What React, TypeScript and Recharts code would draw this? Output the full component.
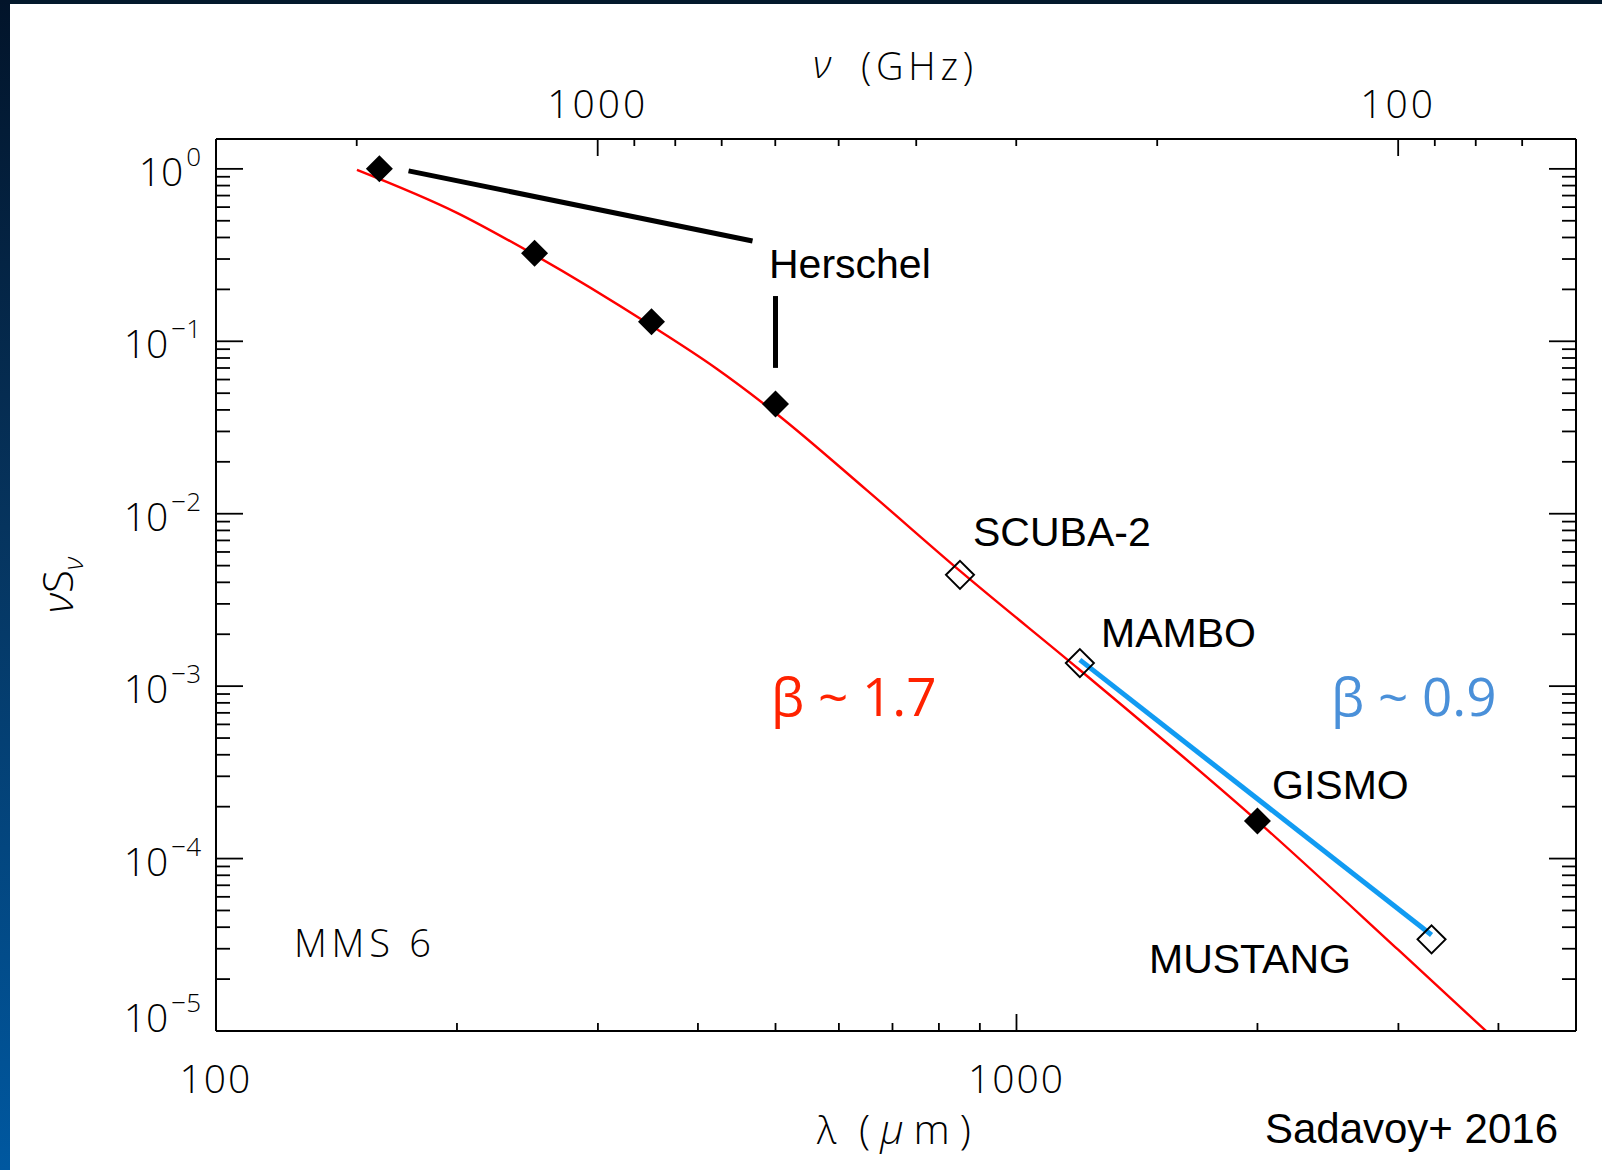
import { ComposedChart, Line, Scatter, XAxis, YAxis } from "recharts";

// λ[µm] = C / ν[GHz]
const C_UM_GHZ = 299792.458;

// Herschel photometry (filled diamonds)
const herschelLam = [160, 250, 350, 500];
const herschelFlux = [1.0, 0.324, 0.13, 0.0433];
// GISMO (filled)
const gismoLam = [2000];
const gismoFlux = [1.65e-4];
// SCUBA-2, MAMBO, MUSTANG (open diamonds)
const openLam = [850, 1200, 3300];
const openFlux = [0.00442, 0.00136, 3.4e-5];

// modified blackbody fit, beta ~ 1.7 (red)
const fitLam = [150, 200, 250, 350, 420, 500, 650, 850, 1200, 2000, 3000, 3860];
const fitFlux = [0.987, 0.556, 0.317, 0.123, 0.0705, 0.0384, 0.0137, 0.00466, 0.00124, 1.65e-4, 2.95e-5, 1.0e-5];

// shallow long-wavelength slope, beta ~ 0.9 (blue)
const shallowLam = [1200, 3300];
const shallowFlux = [0.00142, 3.6e-5];

// "Herschel" leader lines
const leaderLam = [174, 468];
const leaderFlux = [0.974, 0.382];
const stemLam = [500, 500];
const stemFlux = [0.183, 0.0701];

const lamTicks = [100, 200, 300, 400, 500, 600, 700, 800, 900, 1000, 2000, 3000, 4000, 5000];
const lamLabels = [100, 1000];
const nuTicks = [2000, 1000, 900, 800, 700, 600, 500, 400, 300, 200, 100, 90, 80, 70];
const nuLabels = [1000, 100];
const fluxDecades = [-5, -4, -3, -2, -1, 0];
const minorMult = [2, 3, 4, 5, 6, 7, 8, 9];

const pts = (xs: number[], ys: number[]) => xs.map((lam, i) => ({ lam, f: ys[i] }));

const fluxTicks: number[] = [];
fluxDecades.forEach((d) => {
  fluxTicks.push(Math.pow(10, d));
  if (d < 0) minorMult.forEach((m) => fluxTicks.push(m * Math.pow(10, d)));
});

const isDecade = (v: number) => Math.abs(Math.log10(v) - Math.round(Math.log10(v))) < 1e-6;

const TICK_FONT = "'Open Sans', 'DejaVu Sans', sans-serif";
const LABEL_FONT = "'Liberation Sans', Arial, sans-serif";

const LeftTick = (p: any) => {
  const { x, y, payload } = p;
  const v = payload.value;
  const major = isDecade(v);
  const e = Math.round(Math.log10(v));
  const base = e === -5 ? y + 1 : y + 17;
  return (
    <g>
      <line x1={x} x2={x + (major ? 27 : 14)} y1={y} y2={y} stroke="#000" strokeWidth={1.8} />
      {major && (
        <text x={x - 15} y={base} textAnchor="end" fontFamily={TICK_FONT} fontWeight={300} fontSize={39} fill="#000">
          10
          <tspan dy={-20} dx={3} fontSize={26}>
            {e === 0 ? "0" : "\u2212" + Math.abs(e)}
          </tspan>
        </text>
      )}
    </g>
  );
};

const RightTick = (p: any) => {
  const { x, y, payload } = p;
  const major = isDecade(payload.value);
  return <line x1={x} x2={x - (major ? 27 : 14)} y1={y} y2={y} stroke="#000" strokeWidth={1.8} />;
};

const BottomTick = (p: any) => {
  const { x, y, payload } = p;
  const v = payload.value;
  const major = isDecade(v);
  return (
    <g>
      <line x1={x} x2={x} y1={y} y2={y - (major ? 17 : 8)} stroke="#000" strokeWidth={1.8} />
      {lamLabels.includes(v) && (
        <text x={x} y={y + 62} textAnchor="middle" fontFamily={TICK_FONT} fontWeight={300} fontSize={39} letterSpacing={2} fill="#000">
          {v}
        </text>
      )}
    </g>
  );
};

const TopTick = (p: any) => {
  const { x, y, payload } = p;
  const nu = Math.round(C_UM_GHZ / payload.value);
  const major = isDecade(nu);
  return (
    <g>
      <line x1={x} x2={x} y1={y} y2={y + (major ? 17 : 7)} stroke="#000" strokeWidth={1.8} />
      {nuLabels.includes(nu) && (
        <text x={x} y={y - 21} textAnchor="middle" fontFamily={TICK_FONT} fontWeight={300} fontSize={39} letterSpacing={3} fill="#000">
          {nu}
        </text>
      )}
    </g>
  );
};

const FilledDiamond = (p: any) => {
  const { cx, cy } = p;
  const r = 13.5;
  return <path d={`M${cx},${cy - r}L${cx + r},${cy}L${cx},${cy + r}L${cx - r},${cy}Z`} fill="#000" />;
};

const OpenDiamond = (p: any) => {
  const { cx, cy } = p;
  const r = 14;
  return (
    <path d={`M${cx},${cy - r}L${cx + r},${cy}L${cx},${cy + r}L${cx - r},${cy}Z`} fill="none" stroke="#000" strokeWidth={2} />
  );
};

const Annot = ({ x, y, children, ...rest }: any) => (
  <text x={x} y={y} fontFamily={LABEL_FONT} fontSize={41} fill="#000" {...rest}>
    {children}
  </text>
);

export default function App() {
  const xDomain = [100, 5000];
  const yDomain = [1e-5, 1.49];
  const topTicks = nuTicks.map((n) => C_UM_GHZ / n);

  return (
    <div style={{ position: "absolute", left: 0, top: 0, width: 1602, height: 1170, background: "#fff", overflow: "hidden" }}>
      <div style={{ position: "absolute", left: 0, top: 0, width: 1602, height: 4, background: "#03192c" }} />
      <div
        style={{
          position: "absolute",
          left: 0,
          top: 0,
          width: 10,
          height: 1170,
          background: "linear-gradient(#02142a, #06345e 45%, #0058a0)",
        }}
      />
      <div style={{ position: "absolute", left: 0, top: 0 }}>
        <ComposedChart width={1602} height={1170} margin={{ top: 79, right: 6, bottom: 79, left: 116 }}>
          <XAxis
            xAxisId="b"
            dataKey="lam"
            type="number"
            scale="log"
            domain={xDomain}
            allowDataOverflow
            ticks={lamTicks}
            interval={0}
            height={60}
            tickSize={0}
            tickMargin={0}
            tickLine={false}
            tick={BottomTick}
            axisLine={{ stroke: "#000", strokeWidth: 2 }}
          />
          <XAxis
            xAxisId="t"
            orientation="top"
            dataKey="lam"
            type="number"
            scale="log"
            domain={xDomain}
            allowDataOverflow
            ticks={topTicks}
            interval={0}
            height={60}
            tickSize={0}
            tickMargin={0}
            tickLine={false}
            tick={TopTick}
            axisLine={{ stroke: "#000", strokeWidth: 2 }}
          />
          <YAxis
            yAxisId="l"
            dataKey="f"
            type="number"
            scale="log"
            domain={yDomain}
            allowDataOverflow
            ticks={fluxTicks}
            interval={0}
            width={100}
            tickSize={0}
            tickMargin={0}
            tickLine={false}
            tick={LeftTick}
            axisLine={{ stroke: "#000", strokeWidth: 2 }}
          />
          <YAxis
            yAxisId="r"
            orientation="right"
            dataKey="f"
            type="number"
            scale="log"
            domain={yDomain}
            allowDataOverflow
            ticks={fluxTicks}
            interval={0}
            width={20}
            tickSize={0}
            tickMargin={0}
            tickLine={false}
            tick={RightTick}
            axisLine={{ stroke: "#000", strokeWidth: 2 }}
          />
          <Line
            xAxisId="b"
            yAxisId="l"
            data={pts(fitLam, fitFlux)}
            dataKey="f"
            type="monotone"
            stroke="#ff0000"
            strokeWidth={2.4}
            dot={false}
            activeDot={false}
            isAnimationActive={false}
          />
          <Scatter xAxisId="b" yAxisId="l" data={pts(openLam, openFlux)} shape={OpenDiamond} isAnimationActive={false} />
          <Line
            xAxisId="t"
            yAxisId="r"
            data={pts(shallowLam, shallowFlux)}
            dataKey="f"
            type="linear"
            stroke="#119bf2"
            strokeWidth={5}
            dot={false}
            activeDot={false}
            isAnimationActive={false}
          />
          <Line
            xAxisId="b"
            yAxisId="l"
            data={pts(leaderLam, leaderFlux)}
            dataKey="f"
            type="linear"
            stroke="#000"
            strokeWidth={5}
            dot={false}
            activeDot={false}
            isAnimationActive={false}
          />
          <Line
            xAxisId="b"
            yAxisId="l"
            data={pts(stemLam, stemFlux)}
            dataKey="f"
            type="linear"
            stroke="#000"
            strokeWidth={5}
            dot={false}
            activeDot={false}
            isAnimationActive={false}
          />
          <Scatter xAxisId="b" yAxisId="l" data={pts(herschelLam, herschelFlux)} shape={FilledDiamond} isAnimationActive={false} />
          <Scatter xAxisId="b" yAxisId="l" data={pts(gismoLam, gismoFlux)} shape={FilledDiamond} isAnimationActive={false} />
        </ComposedChart>
      </div>
      <svg width={1602} height={1170} style={{ position: "absolute", left: 0, top: 0, pointerEvents: "none" }}>
        <text x={813} y={78} fontFamily={TICK_FONT} fontWeight={300} fontSize={38} fontStyle="italic" fill="#000">
          ν
        </text>
        <text x={861} y={80} fontFamily={TICK_FONT} fontWeight={300} fontSize={38} textLength={112} lengthAdjust="spacing" fill="#000">
          (GHz)
        </text>
        <text x={817} y={1144} fontFamily={TICK_FONT} fontWeight={300} fontSize={38} fill="#000">
          λ
        </text>
        <text x={859} y={1144} fontFamily={TICK_FONT} fontWeight={300} fontSize={41} textLength={112} lengthAdjust="spacing" fill="#000">
          (<tspan fontStyle="italic">μ</tspan>m)
        </text>
        <text
          transform="translate(73,585) rotate(-90)"
          textAnchor="middle"
          fontFamily={TICK_FONT}
          fontWeight={300}
          fontSize={42}
          fill="#000"
        >
          <tspan fontStyle="italic">ν</tspan>S<tspan fontSize={28} fontStyle="italic" dy={10}>ν</tspan>
        </text>
        <text x={294} y={957} fontFamily={TICK_FONT} fontWeight={300} fontSize={38} textLength={137} lengthAdjust="spacing" fill="#000">
          MMS 6
        </text>
        <Annot x={769} y={278}>Herschel</Annot>
        <Annot x={973} y={546}>SCUBA-2</Annot>
        <Annot x={1101} y={647}>MAMBO</Annot>
        <Annot x={1272} y={799}>GISMO</Annot>
        <Annot x={1149} y={973}>MUSTANG</Annot>
        <Annot x={1558} y={1143} textAnchor="end" fontSize={42}>
          Sadavoy+ 2016
        </Annot>
        <text x={771} y={716} fontFamily="'Open Sans', sans-serif" fontSize={53} fill="#ff2200">
          β ~ 1.7
        </text>
        <text x={1331} y={716} fontFamily="'Open Sans', sans-serif" fontSize={53} fill="#4a90d9">
          β ~ 0.9
        </text>
      </svg>
    </div>
  );
}
